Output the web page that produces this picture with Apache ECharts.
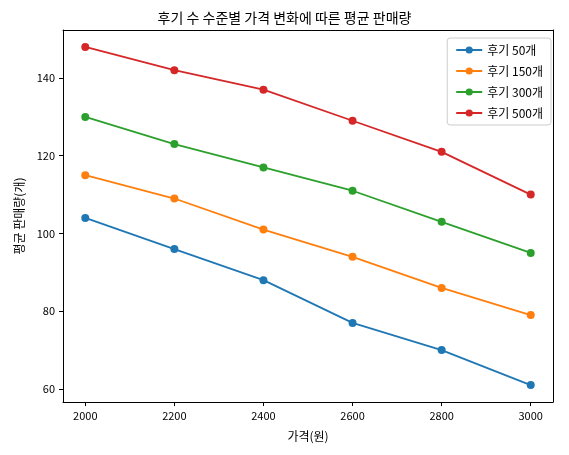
<!DOCTYPE html>
<html><head><meta charset="utf-8">
<script src="https://cdn.jsdelivr.net/npm/echarts@6/dist/echarts.min.js"></script>
<style>html,body{margin:0;padding:0;background:#fff}#c{width:569px;height:455px}</style>
</head><body><div id="c"></div>
<script>
const prices = [2000, 2200, 2400, 2600, 2800, 3000];
const xTicks = [2000, 2200, 2400, 2600, 2800, 3000];
const yTicks = [60, 80, 100, 120, 140];
const names = ['후기 50개', '후기 150개', '후기 300개', '후기 500개'];
const s50 = [104, 96, 88, 77, 70, 61];
const s150 = [115, 109, 101, 94, 86, 79];
const s300 = [130, 123, 117, 111, 103, 95];
const s500 = [148, 142, 137, 129, 121, 110];
const colors = ['#1f77b4', '#ff7f0e', '#2ca02c', '#d62728'];
const font = '"Noto Sans CJK KR", "DejaVu Sans", sans-serif';
const chart = echarts.init(document.getElementById('c'));
const frameAxis = (pos, min, max) => ({type: 'value', position: pos, min: min, max: max,
  axisLine: {show: true, onZero: false, lineStyle: {color: '#000'}}, axisTick: {show: false},
  axisLabel: {show: false}, splitLine: {show: false}});
chart.setOption({
  animation: false,
  textStyle: {fontFamily: font},
  title: {text: '후기 수 수준별 가격 변화에 따른 평균 판매량', left: 'center', top: 6,
    textStyle: {fontSize: 14, fontWeight: 'normal', color: '#000', fontFamily: font}},
  legend: {right: 18, top: 38, orient: 'vertical', itemGap: 9, itemWidth: 26, itemHeight: 9,
    borderColor: '#ccc', borderWidth: 1, borderRadius: 3, padding: [6, 8],
    textStyle: {fontSize: 12, color: '#000'}, data: names},
  grid: {left: 63, right: 16, top: 30, bottom: 53},
  xAxis: [{type: 'value', min: 1950, max: 3050, name: '가격(원)', nameLocation: 'middle', nameGap: 28,
    nameTextStyle: {fontSize: 12, color: '#000'},
    axisLine: {onZero: false, lineStyle: {color: '#000'}},
    axisTick: {customValues: xTicks, lineStyle: {color: '#000'}, length: 4},
    axisLabel: {customValues: xTicks, color: '#000', fontSize: 11, formatter: v => String(v)},
    splitLine: {show: false}}, frameAxis('top', 1950, 3050)],
  yAxis: [{type: 'value', min: 56.65, max: 152.35, name: '평균 판매량(개)', nameLocation: 'middle', nameGap: 38,
    nameTextStyle: {fontSize: 12, color: '#000'},
    axisLine: {show: true, onZero: false, lineStyle: {color: '#000'}},
    axisTick: {show: true, customValues: yTicks, lineStyle: {color: '#000'}, length: 4},
    axisLabel: {customValues: yTicks, color: '#000', fontSize: 11},
    splitLine: {show: false}}, frameAxis('right', 56.65, 152.35)],
  series: [s50, s150, s300, s500].map((d, i) => ({
    name: names[i], type: 'line', data: d.map((v, j) => [prices[j], v]),
    symbol: 'circle', symbolSize: 8, color: colors[i],
    lineStyle: {width: 1.8, color: colors[i]}, itemStyle: {color: colors[i]}
  }))
});
</script></body></html>
